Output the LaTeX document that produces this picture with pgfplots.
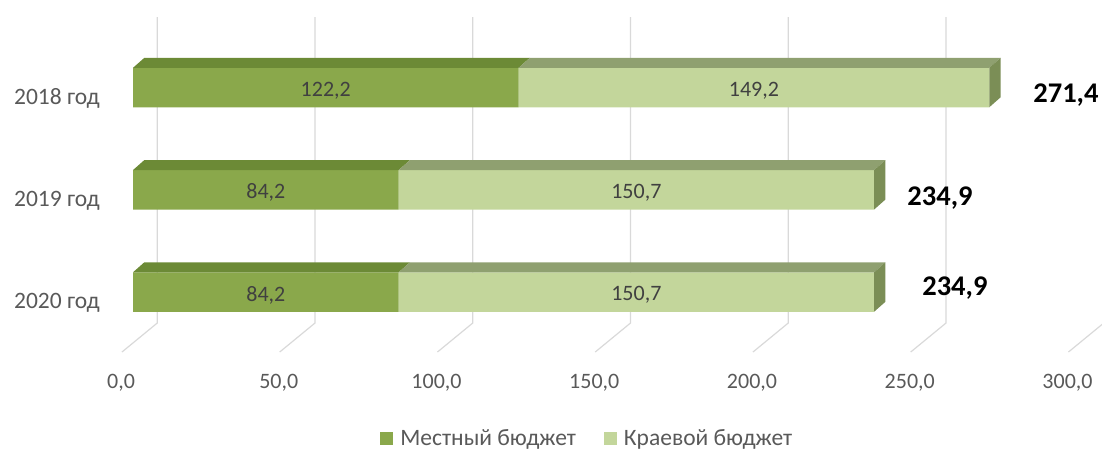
\documentclass[border=0pt]{standalone}
\usepackage{pgfplots}
\pgfplotsset{compat=1.18}
\usepackage{fontspec}
\setmainfont{Carlito}
\definecolor{darkF}{HTML}{8AA84B}
\definecolor{darkT}{HTML}{6C8A36}
\definecolor{lightF}{HTML}{C3D69B}
\definecolor{lightT}{HTML}{8FA070}
\definecolor{endF}{HTML}{7B8E56}
\definecolor{gridc}{HTML}{D9D9D9}
\definecolor{labc}{HTML}{595959}
\definecolor{datac}{HTML}{404040}
\tikzset{lab/.style={font=\fontsize{22}{24}\selectfont},
         catlab/.style={font=\fontsize{23.5}{25}\selectfont}}
\pgfplotsset{
  base/.style={scale only axis, width=946.5pt, height=337.35pt,
    xmin=0, xmax=300, ymin=-0.6, ymax=2.7,
    at={(133pt,96.65pt)}, anchor=south west,
    axis line style={draw=none}, major tick length=0pt, clip=false},
}
\begin{document}
\begin{tikzpicture}
\useasboundingbox (0,0) rectangle (1102pt,450pt);
% back wall: grid, floor, tick labels
\begin{axis}[base,
  xtick={0,50,100,150,200,250,300},
  xticklabels={{0,0},{50,0},{100,0},{150,0},{200,0},{250,0},{300,0}},
  xticklabel style={anchor=center, xshift=-12pt, yshift=-29.6pt, lab, text=labc},
  ytick={0,1,2},
  yticklabels={2020 год,2019 год,2018 год},
  yticklabel style={anchor=east, inner sep=0pt, xshift=-33pt, yshift=-11pt, catlab, text=labc},
]
\addplot[gridc, line width=1.2pt] coordinates {(7.7,2.69) (7.7,-0.303) (-3.5,-0.587)};
\addplot[gridc, line width=1.2pt] coordinates {(57.7,2.69) (57.7,-0.303) (46.5,-0.587)};
\addplot[gridc, line width=1.2pt] coordinates {(107.7,2.69) (107.7,-0.303) (96.5,-0.587)};
\addplot[gridc, line width=1.2pt] coordinates {(157.7,2.69) (157.7,-0.303) (146.5,-0.587)};
\addplot[gridc, line width=1.2pt] coordinates {(207.7,2.69) (207.7,-0.303) (196.5,-0.587)};
\addplot[gridc, line width=1.2pt] coordinates {(257.7,2.69) (257.7,-0.303) (246.5,-0.587)};
\addplot[gridc, line width=1.2pt] coordinates {(307.7,2.69) (307.7,-0.303) (296.5,-0.587)};
\end{axis}
% bars (front faces)
\begin{axis}[base, xbar stacked, bar width=39.5pt, xtick=\empty, ytick=\empty,
  legend columns=2,
  legend style={at={(0.48,-0.252)}, anchor=center, draw=none, fill=none, catlab, text=labc,
    /tikz/every odd column/.append style={column sep=5pt},
    /tikz/every even column/.append style={column sep=26pt}},
  legend image code/.code={\fill[#1] (-3pt,-6.5pt) rectangle (10pt,6.5pt);},
]
\addplot[fill=darkF, draw=none] coordinates {(122.2,2) (84.2,1) (84.2,0)};
\addplot[fill=lightF, draw=none] coordinates {(149.2,2) (150.7,1) (150.7,0)};
\legend{Местный бюджет, Краевой бюджет}
\end{axis}
% 3D faces and labels
\begin{axis}[base, xtick=\empty, ytick=\empty]
% top faces 2018
\addplot[fill=darkT, draw=none] coordinates {(0,2.193) (122.2,2.193) (125.8,2.291) (3.6,2.291)};
\addplot[fill=lightT, draw=none] coordinates {(122.2,2.193) (271.4,2.193) (275.0,2.291) (125.8,2.291)};
\addplot[fill=endF, draw=none] coordinates {(271.4,1.807) (275.0,1.905) (275.0,2.291) (271.4,2.193)};
% 2019
\addplot[fill=darkT, draw=none] coordinates {(0,1.193) (84.2,1.193) (87.8,1.291) (3.6,1.291)};
\addplot[fill=lightT, draw=none] coordinates {(84.2,1.193) (234.9,1.193) (238.5,1.291) (87.8,1.291)};
\addplot[fill=endF, draw=none] coordinates {(234.9,0.807) (238.5,0.905) (238.5,1.291) (234.9,1.193)};
% 2020
\addplot[fill=darkT, draw=none] coordinates {(0,0.193) (84.2,0.193) (87.8,0.291) (3.6,0.291)};
\addplot[fill=lightT, draw=none] coordinates {(84.2,0.193) (234.9,0.193) (238.5,0.291) (87.8,0.291)};
\addplot[fill=endF, draw=none] coordinates {(234.9,-0.193) (238.5,-0.095) (238.5,0.291) (234.9,0.193)};
% segment labels
\addplot[draw=none, mark=none, nodes near coords, point meta=explicit symbolic,
  every node near coord/.append style={anchor=center, lab, text=datac}]
  coordinates {(61.1,1.97)[{122,2}] (196.8,1.97)[{149,2}]
               (42.1,0.97)[{84,2}] (159.55,0.97)[{150,7}]
               (42.1,-0.03)[{84,2}] (159.55,-0.03)[{150,7}]};
% totals
\addplot[draw=none, mark=none, nodes near coords, point meta=explicit symbolic,
  every node near coord/.append style={anchor=center, font=\bfseries\fontsize{28.5}{30}\selectfont, text=black}]
  coordinates {(295.7,1.93)[{271,4}] (255.8,0.92)[{234,9}] (260.5,0.04)[{234,9}]};
\end{axis}
\end{tikzpicture}
\end{document}
